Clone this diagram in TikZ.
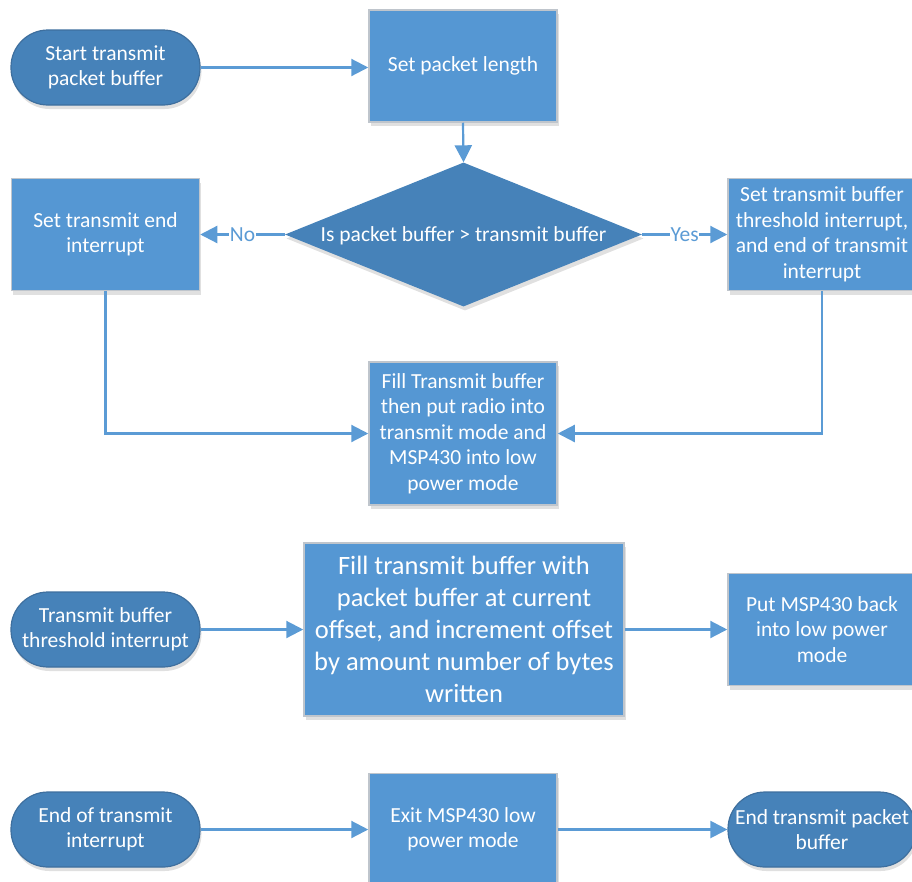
\documentclass[tikz,border=0pt]{standalone}
\usepackage{fontspec}
\setmainfont{Carlito}
\usetikzlibrary{arrows.meta,shapes.geometric,shadows}

\definecolor{boxblue}{HTML}{5597D3}
\definecolor{termblue}{HTML}{4682B9}
\definecolor{termedge}{HTML}{3E6F9E}
\definecolor{boxedge}{HTML}{BFC5CC}
\definecolor{linkblue}{HTML}{5B9BD5}

\tikzset{
  softshadow/.style={drop shadow={shadow xshift=1.5pt, shadow yshift=-4pt, opacity=0.12, fill=black}},
  basetext/.style={text=white, align=center, font=\fontsize{21.5}{25.5}\selectfont, inner sep=1pt},
  process/.style={basetext, rectangle, fill=boxblue, draw=boxedge, line width=1.5pt,
    minimum width=188pt, minimum height=112pt, softshadow},
  terminal/.style={basetext, rectangle, rounded corners=37pt, fill=termblue, draw=termedge,
    line width=1.2pt, minimum width=189pt, minimum height=75pt, softshadow},
  decision/.style={diamond, fill=termblue, draw=none, inner sep=0pt,
    minimum width=357pt, minimum height=144pt, softshadow},
  link/.style={draw=linkblue, line width=2.2pt, -{Triangle[length=17pt,width=17pt]}},
  linklabel/.style={text=linkblue, font=\fontsize{21.5}{25.5}\selectfont, fill=white, inner sep=0.5pt}
}

\begin{document}
\begin{tikzpicture}[x=1pt,y=-1pt]
  \useasboundingbox (0,0) rectangle (912,881);
  \clip (0,0) rectangle (912,881);

  % transmit routine
  \node[terminal] (start) at (105.5,67.5) {Start transmit\\packet buffer};
  \node[process] (len) at (463,66) {Set packet length};
  \node[decision] (dec) at (463.5,234.5) {};
  \node[basetext] (dectext) at (463.5,236) {Is packet buffer > transmit buffer};
  \node[process] (endint) at (105.5,234.5) {Set transmit end\\interrupt};
  \node[process] (thrint) at (822,234.5) {Set transmit buffer\\threshold interrupt,\\and end of transmit\\interrupt};
  \node[process, minimum height=143pt] (fill) at (463,433.5) {Fill Transmit buffer\\then put radio into\\transmit mode and\\MSP430 into low\\power mode};

  \draw[link] (start.east) -- (start.east -| len.west);
  \draw[link] (len.south) -- (dec.north);
  \draw[link] (dec.west) -- node[linklabel] {No} (dec.west -| endint.east);
  \draw[link] (dec.east) -- node[linklabel] {Yes} (dec.east -| thrint.west);
  \draw[link] (endint.south) |- (fill.west);
  \draw[link] (thrint.south) |- (fill.east);

  % threshold interrupt handler
  \node[terminal] (thr) at (105.5,629.5) {Transmit buffer\\threshold interrupt};
  \node[process, minimum width=320pt, minimum height=173pt,
        font=\fontsize{26.5}{32}\selectfont] (refill) at (464,629.5)
        {Fill transmit buffer with\\packet buffer at current\\offset, and increment offset\\by amount number of bytes\\written};
  \node[process] (back) at (822,629.5) {Put MSP430 back\\into low power\\mode};

  \draw[link] (thr.east) -- (refill.west);
  \draw[link] (refill.east) -- (back.west);

  % end of transmit interrupt handler
  \node[terminal] (eot) at (105.5,829.5) {End of transmit\\interrupt};
  \node[process] (exit) at (463,829.5) {Exit MSP430 low\\power mode};
  \node[terminal, minimum width=188pt] (done) at (822,829.5) {End transmit packet\\buffer};

  \draw[link] (eot.east) -- (exit.west);
  \draw[link] (exit.east) -- (done.west);
\end{tikzpicture}
\end{document}
